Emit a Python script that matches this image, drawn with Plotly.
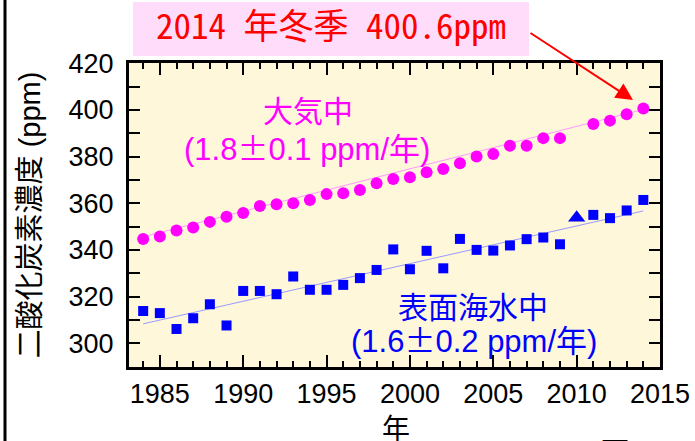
import plotly.graph_objects as go

# ---------------- data ----------------
years = list(range(1984, 2015))
atm_co2 = [344.7, 345.7, 348.3, 349.6, 352.0, 354.2, 355.8, 358.8, 359.6, 360.0,
           361.4, 363.9, 364.3, 365.7, 368.6, 370.4, 371.1, 373.3, 374.7, 377.1,
           380.0, 381.1, 384.6, 384.6, 387.9, 387.9, None, 394.0, 395.4, 398.1, 400.6]
sea_co2 = [313.8, 312.9, 306.1, 310.7, 316.7, 307.6, 322.4, 322.4, 321.0, 328.6,
           322.9, 322.9, 325.0, 327.9, 331.4, 340.2, 331.7, 339.6, 332.1, 344.7,
           340.0, 339.7, 341.9, 344.6, 345.3, 342.4, None, 355.0, 353.6, 356.9, 361.4]
sea_special_year = [2010]
sea_special_co2 = [353.8]
trend_years = [1984, 2014]
atm_trend = [345.6, 400.2]
sea_trend = [308.3, 356.7]

x_range = [1983.15, 2015.0]
y_range = [289.8, 420.1]

# ---------------- layout helpers (pixel -> paper) ----------------
W, H = 695, 441
ML, MR, MT, MB = 129, 35, 63, 74
PW, PH = W - ML - MR, H - MT - MB


def xp(px):
    return (px - ML) / PW


def yp(py):
    return (H - MB - py) / PH


FONT = "Liberation Sans, Arial, Noto Sans CJK JP"
PM = '<span style="font-family:Noto Sans CJK JP">±</span>'
MAGENTA = "#FF00FF"
BLUE = "#0000FF"

fig = go.Figure()

fig.add_trace(go.Scatter(x=trend_years, y=atm_trend, mode="lines",
                         line=dict(color="#FF99FF", width=1), hoverinfo="skip"))
fig.add_trace(go.Scatter(x=trend_years, y=sea_trend, mode="lines",
                         line=dict(color="#9999FF", width=1), hoverinfo="skip"))
fig.add_trace(go.Scatter(x=years, y=atm_co2, mode="markers",
                         marker=dict(symbol="circle", size=12, color=MAGENTA)))
fig.add_trace(go.Scatter(x=years, y=sea_co2, mode="markers",
                         marker=dict(symbol="square", size=10, color=BLUE)))
fig.add_trace(go.Scatter(x=sea_special_year, y=sea_special_co2, mode="markers",
                         marker=dict(symbol="triangle-up", size=15, color=BLUE)))

axis_common = dict(
    showgrid=False, zeroline=False,
    showline=True, linewidth=3, linecolor="black", mirror="ticks",
    ticks="inside", tickwidth=2, tickcolor="black",
    tickfont=dict(family=FONT, size=27, color="black"),
    automargin=False,
)

fig.update_xaxes(range=x_range, dtick=5, tick0=1985, ticklen=12,
                 minor=dict(dtick=1, tick0=1984, ticks="inside", ticklen=6,
                            tickwidth=2, tickcolor="black"),
                 ticklabelstandoff=1,
                 **axis_common)
fig.update_yaxes(range=y_range, dtick=20, tick0=300, ticklen=11,
                 minor=dict(dtick=10, ticks="inside", ticklen=11,
                            tickwidth=2, tickcolor="black"),
                 ticklabelstandoff=7,
                 title=dict(text="二酸化炭素濃度 (ppm)",
                            font=dict(family=FONT, size=29, color="black"),
                            standoff=20),
                 **axis_common)

# pink label box
fig.add_shape(type="rect", xref="paper", yref="paper", layer="below",
              x0=xp(133), x1=xp(529), y0=yp(56), y1=yp(2),
              fillcolor="#FFDDFA", line=dict(width=0))

annotations = [
    dict(text="年", x=xp(396), y=yp(429), font=dict(size=28, color="black")),
    dict(text="大気中", x=xp(308), y=yp(111), font=dict(size=30, color=MAGENTA)),
    dict(text="(1.8" + PM + "0.1 ppm/年)", x=xp(307), y=yp(146), font=dict(size=31, color=MAGENTA)),
    dict(text="表面海水中", x=xp(473), y=yp(307), font=dict(size=30, color=BLUE)),
    dict(text="(1.6" + PM + "0.2 ppm/年)", x=xp(474), y=yp(338), font=dict(size=31, color=BLUE)),
    dict(text="2014 年冬季 400.6ppm", x=xp(331), y=yp(23),
         font=dict(size=35, color="#FF0000", family="Noto Sans Mono CJK JP, Noto Sans CJK JP")),
    dict(text="図 3", x=xp(627), y=yp(453), font=dict(size=30, color="black")),
]
for a in annotations:
    a.update(xref="paper", yref="paper", showarrow=False, xanchor="center", yanchor="middle")
    a["font"].setdefault("family", FONT)
    fig.add_annotation(**a)

# arrow from label box to the 2014 point
fig.add_annotation(x=xp(633), y=yp(100), xref="paper", yref="paper", text="",
                   showarrow=True, axref="pixel", ayref="pixel", ax=-104, ay=-68,
                   arrowhead=2, arrowsize=1.7, arrowwidth=2, arrowcolor="#FF0000")

# left frame line of the surrounding figure
fig.add_shape(type="line", xref="paper", yref="paper",
              x0=xp(5), x1=xp(5), y0=yp(0), y1=yp(441),
              line=dict(color="black", width=3))

fig.update_layout(
    width=W, height=H,
    margin=dict(l=ML, r=MR, t=MT, b=MB, autoexpand=False),
    paper_bgcolor="white", plot_bgcolor="#FFF7DA",
    showlegend=False,
)

fig.write_html("out.html", config={"displayModeBar": False},
               post_script="document.body.style.margin='0';document.body.style.overflow='hidden';")
